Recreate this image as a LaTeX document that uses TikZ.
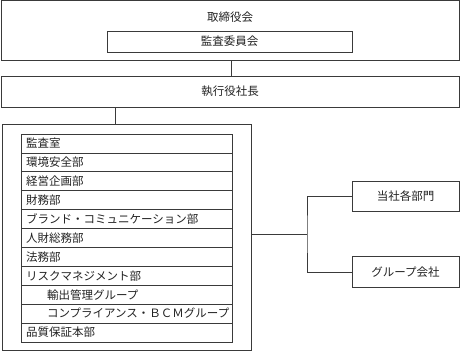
\documentclass[tikz,border=0pt]{standalone}
\usepackage{fontspec}
\usepackage{tikz}
\usetikzlibrary{positioning,calc}
\newfontfamily\jpfont{Noto Sans CJK JP}
\definecolor{OrgLine}{HTML}{3A3A3A}
\definecolor{OrgText}{HTML}{222222}
\tikzset{
  orgbox/.style={draw=OrgLine,line width=0.7pt,rectangle,inner sep=0pt,text=OrgText},
  orgrow/.style={orgbox,minimum width=211pt,minimum height=18.9pt,text width=201pt,align=left},
  orglink/.style={draw=OrgLine,line width=0.7pt}
}
\begin{document}
\begin{tikzpicture}[x=1pt,y=-1pt,font=\jpfont\fontsize{11.5}{13}\selectfont]
\useasboundingbox (0,0) rectangle (460,352);
\node[orgbox,minimum width=458pt,minimum height=60pt] (board) at (230,30.5) {};
\node[text=OrgText] (boardlbl) at (230,17.5) {取締役会};
\node[orgbox,minimum width=245pt,minimum height=21pt] (audit) at (229.5,41.5) {監査委員会};
\node[orgbox,minimum width=458pt,minimum height=31pt] (exec) at (230,91.5) {執行役社長};
\node[orgbox,minimum width=249pt,minimum height=226pt] (staff) at (126.5,237) {};
\foreach \name [count=\i] in {監査室,環境安全部,経営企画部,財務部,ブランド・コミュニケーション部,人財総務部,法務部,リスクマネジメント部,\hspace*{21pt}輸出管理グループ,\hspace*{21pt}コンプライアンス・ＢＣＭグループ,品質保証本部}
  \node[orgrow] (row\i) at (126.5,{134+18.9*(\i-0.5)}) {\name};
\node[orgbox,minimum width=107pt,minimum height=30.5pt] (dept) at (405.5,196.5) {当社各部門};
\node[orgbox,minimum width=107pt,minimum height=30.5pt] (group) at (405.5,272) {グループ会社};
\coordinate (branch) at (307,234);
\draw[orglink] (board.south -| 231,0) -- (exec.north -| 231,0);
\draw[orglink] (exec.south -| 115,0) -- (staff.north -| 115,0);
\draw[orglink] (branch -| staff.east) -- (branch);
\draw[orglink] (dept.west) -| (branch) |- (group.west);
\end{tikzpicture}
\end{document}
